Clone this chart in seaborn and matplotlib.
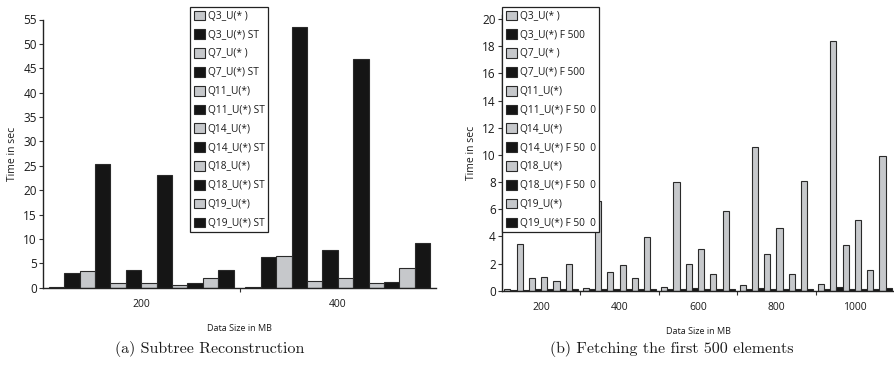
import numpy as np
import pandas as pd
import seaborn as sns
import matplotlib.pyplot as plt

# data
series_a = ["Q3_U(* )", "Q3_U(*) ST", "Q7_U(* )", "Q7_U(*) ST", "Q11_U(*)", "Q11_U(*) ST",
            "Q14_U(*)", "Q14_U(*) ST", "Q18_U(*)", "Q18_U(*) ST", "Q19_U(*)", "Q19_U(*) ST"]
series_b = ["Q3_U(* )", "Q3_U(*) F 500", "Q7_U(* )", "Q7_U(*) F 500", "Q11_U(*)", "Q11_U(*) F 50  0",
            "Q14_U(*)", "Q14_U(*) F 50  0", "Q18_U(*)", "Q18_U(*) F 50  0", "Q19_U(*)", "Q19_U(*) F 50  0"]

sizes_a = ["200", "400"]
a_200 = [0.2, 3.1, 3.4, 25.3, 0.9, 3.6, 0.9, 23.2, 0.6, 0.9, 2.0, 3.7]
a_400 = [0.2, 6.2, 6.6, 53.5, 1.4, 7.7, 1.9, 46.8, 0.9, 1.1, 4.0, 9.1]

sizes_b = ["200", "400", "600", "800", "1000"]
b_200 = [0.15, 0.05, 3.45, 0.05, 0.9, 0.1, 1.0, 0.1, 0.7, 0.15, 2.0, 0.1]
b_400 = [0.2, 0.1, 6.6, 0.1, 1.35, 0.15, 1.9, 0.1, 0.9, 0.1, 3.95, 0.15]
b_600 = [0.3, 0.1, 8.0, 0.15, 2.0, 0.2, 3.1, 0.1, 1.2, 0.1, 5.85, 0.15]
b_800 = [0.45, 0.1, 10.6, 0.2, 2.7, 0.15, 4.65, 0.1, 1.2, 0.1, 8.1, 0.15]
b_1000 = [0.5, 0.1, 18.4, 0.25, 3.35, 0.1, 5.2, 0.1, 1.5, 0.1, 9.9, 0.2]

GRAY = "#c6c8cb"
BLACK = "#151515"


def long_df(sizes, groups, series):
    rows = []
    for s, vals in zip(sizes, groups):
        for name, v in zip(series, vals):
            rows.append({"size": s, "series": name, "time": v})
    return pd.DataFrame(rows)


df_a = long_df(sizes_a, [a_200, a_400], series_a)
df_b = long_df(sizes_b, [b_200, b_400, b_600, b_800, b_1000], series_b)

sns.set_style("ticks")
plt.rcParams["font.family"] = ["Open Sans", "DejaVu Sans"]
plt.rcParams["text.color"] = "#1a1a1a"
plt.rcParams["xtick.color"] = "#1a1a1a"
plt.rcParams["ytick.color"] = "#1a1a1a"
plt.rcParams["axes.labelcolor"] = "#1a1a1a"

W, H = 894, 369
fig = plt.figure(figsize=(W / 100, H / 100), dpi=100)


def px_axes(x0, y_top, x1, y_bot):
    return fig.add_axes([x0 / W, 1 - y_bot / H, (x1 - x0) / W, (y_bot - y_top) / H])


def draw(ax, df, series, sizes, ymax, yticks, leg_x):
    sns.barplot(data=df, x="size", y="time", hue="series", hue_order=series, order=sizes,
                palette=[GRAY, BLACK] * 6, width=0.94, edgecolor="#2a2a2a", linewidth=0.8,
                saturation=1, ax=ax)
    n = len(sizes)
    ax.set_xlim(-0.5, n - 0.5)
    ax.set_ylim(0, ymax)
    ax.set_yticks(yticks)
    # boundary ticks (unlabelled) and centred labels
    ax.set_xticks(np.arange(n - 1) + 0.5)
    ax.set_xticklabels([])
    ax.set_xticks(np.arange(n), minor=True)
    ax.set_xticklabels(sizes, minor=True)
    ax.tick_params(axis="x", which="major", direction="out", length=3, width=0.8, color="#333333")
    ax.tick_params(axis="x", which="minor", length=0, pad=8, labelsize=7.5)
    ax.tick_params(axis="y", direction="out", length=3, width=0.8, labelsize=8.5, pad=1.5, color="#333333")
    for side in ["top", "right"]:
        ax.spines[side].set_visible(False)
    for side in ["left", "bottom"]:
        ax.spines[side].set_linewidth(1.0)
        ax.spines[side].set_color("#222222")
    ax.set_xlabel("Data Size in MB", fontsize=6.5, labelpad=10)
    ax.set_ylabel("Time in sec", fontsize=7.5, labelpad=4)
    handles, labels = ax.get_legend_handles_labels()
    ax.legend(handles, labels, loc="upper left", bbox_to_anchor=(leg_x / W, 1 - 7 / H),
              bbox_transform=fig.transFigure, borderaxespad=0, frameon=True, fancybox=False,
              edgecolor="#222222", framealpha=1, fontsize=7.3, handlelength=1.1, handleheight=1.1,
              handletextpad=0.3, labelspacing=0.74, borderpad=0.35)
    ax.get_legend().get_frame().set_linewidth(0.9)


ax_a = px_axes(43, 19.5, 436, 287.7)
draw(ax_a, df_a, series_a, sizes_a, 55, range(0, 56, 5), 190)

ax_b = px_axes(502, 15, 894, 290.7)
draw(ax_b, df_b, series_b, sizes_b, 20.3, range(0, 21, 2), 502)

fig.text(210 / W, 1 - 349 / H, "(a) Subtree Reconstruction", ha="center", va="center",
         fontsize=11.5, family="cmr10")
fig.text(672 / W, 1 - 349 / H, "(b) Fetching the first 500 elements", ha="center", va="center",
         fontsize=11.5, family="cmr10")

fig.savefig("out.png", dpi=100)
